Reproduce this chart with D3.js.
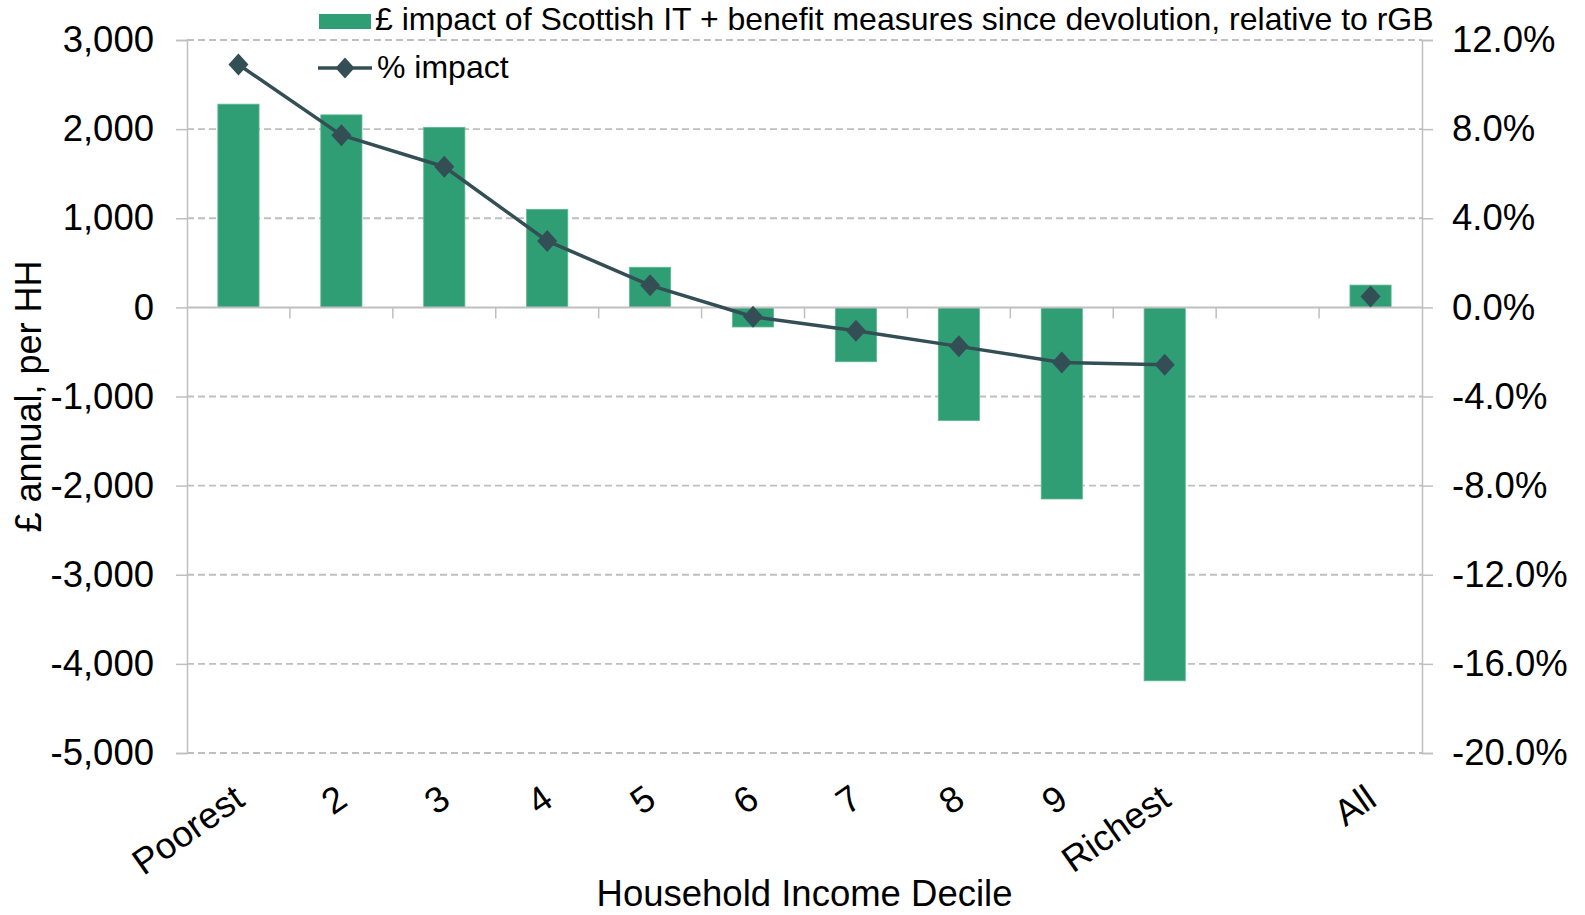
<!DOCTYPE html>
<html>
<head>
<meta charset="utf-8">
<script src="https://cdn.jsdelivr.net/npm/d3@7"></script>
<style>
  html, body { margin: 0; padding: 0; background: #ffffff; }
  svg { display: block; font-family: "Liberation Sans", Arial, sans-serif; }
</style>
</head>
<body>
<svg id="chart" width="1585" height="915"></svg>
<script>
// Household income deciles (blank slot separates "All")
const categories = ["Poorest", "2", "3", "4", "5", "6", "7", "8", "9", "Richest", "", "All"];
// £ annual impact per household
const poundImpact = [2280, 2160, 2020, 1100, 450, -220, -610, -1270, -2150, -4190, null, 250];
// % impact on household income
const pctImpact = [10.9, 7.73, 6.31, 2.98, 0.99, -0.42, -1.05, -1.75, -2.47, -2.57, null, 0.49];

const leftTicks = [3000, 2000, 1000, 0, -1000, -2000, -3000, -4000, -5000];
const leftTickLabels = ["3,000", "2,000", "1,000", "0", "-1,000", "-2,000", "-3,000", "-4,000", "-5,000"];
const rightTicks = [12, 8, 4, 0, -4, -8, -12, -16, -20];
const rightTickLabels = ["12.0%", "8.0%", "4.0%", "0.0%", "-4.0%", "-8.0%", "-12.0%", "-16.0%", "-20.0%"];

const seriesNames = ["£ impact of Scottish IT + benefit measures since devolution, relative to rGB", "% impact"];
const xTitle = "Household Income Decile";
const yTitle = "£ annual, per HH";

const barColor = "#2F9E74";
const lineColor = "#344E55";
const axisColor = "#BFBFBF";

const svg = d3.select("#chart");
const plot = { left: 187, right: 1422, top: 40, bottom: 753 };

const x = d3.scaleBand()
  .domain(categories.map((c, i) => i))
  .range([plot.left, plot.right])
  .paddingInner(0.6)
  .paddingOuter(0.3);
const step = x.step();

const yL = d3.scaleLinear().domain([-5000, 3000]).range([plot.bottom, plot.top]);
const yR = d3.scaleLinear().domain([-20, 12]).range([plot.bottom, plot.top]);

// dashed horizontal gridlines
svg.append("g")
  .selectAll("line")
  .data(leftTicks.filter(v => v !== 0))
  .join("line")
  .attr("x1", plot.left).attr("x2", plot.right)
  .attr("y1", d => yL(d)).attr("y2", d => yL(d))
  .attr("stroke", axisColor)
  .attr("stroke-width", 1.8)
  .attr("stroke-dasharray", "7,4");

// left axis
const gL = svg.append("g").attr("transform", `translate(${plot.left},0)`)
  .call(d3.axisLeft(yL).tickValues(leftTicks).tickSize(11).tickPadding(22)
    .tickFormat((d, i) => leftTickLabels[i]));
gL.select(".domain").attr("stroke", axisColor).attr("stroke-width", 1.5);
gL.selectAll(".tick line").attr("stroke", axisColor).attr("stroke-width", 1.5);
gL.selectAll(".tick text").attr("font-size", 36.5).attr("fill", "#000")
  .attr("font-family", "Liberation Sans, Arial, sans-serif");

// right axis
const gR = svg.append("g").attr("transform", `translate(${plot.right},0)`)
  .call(d3.axisRight(yR).tickValues(rightTicks).tickSize(11).tickPadding(19)
    .tickFormat((d, i) => rightTickLabels[i]));
gR.select(".domain").attr("stroke", axisColor).attr("stroke-width", 1.5);
gR.selectAll(".tick line").attr("stroke", axisColor).attr("stroke-width", 1.5);
gR.selectAll(".tick text").attr("font-size", 36.5).attr("fill", "#000")
  .attr("font-family", "Liberation Sans, Arial, sans-serif");

// bars
svg.append("g")
  .selectAll("rect")
  .data(poundImpact.map((v, i) => ({ v, i })).filter(d => d.v !== null))
  .join("rect")
  .attr("x", d => x(d.i))
  .attr("width", x.bandwidth())
  .attr("y", d => Math.min(yL(d.v), yL(0)))
  .attr("height", d => Math.abs(yL(d.v) - yL(0)))
  .attr("fill", barColor)
  .attr("stroke", "#5DB892")
  .attr("stroke-width", 0.8);

// category axis along zero
const zeroY = yL(0);
svg.append("line")
  .attr("x1", plot.left).attr("x2", plot.right)
  .attr("y1", zeroY).attr("y2", zeroY)
  .attr("stroke", axisColor).attr("stroke-width", 2);
svg.append("g")
  .selectAll("line")
  .data(d3.range(1, categories.length))
  .join("line")
  .attr("x1", i => plot.left + i * step).attr("x2", i => plot.left + i * step)
  .attr("y1", zeroY).attr("y2", zeroY + 11)
  .attr("stroke", axisColor).attr("stroke-width", 1.5);

// category labels
svg.append("g")
  .selectAll("text")
  .data(categories.map((c, i) => ({ c, i })).filter(d => d.c !== ""))
  .join("text")
  .attr("transform", d => `translate(${x(d.i) + x.bandwidth() / 2 + 8},${plot.bottom + 51}) rotate(-35)`)
  .attr("text-anchor", "end")
  .attr("font-size", 36.5)
  .attr("fill", "#000")
  .text(d => d.c);

// % impact line
const pts = pctImpact.map((v, i) => ({ v, i }));
svg.append("path")
  .datum(pts)
  .attr("d", d3.line()
    .defined(d => d.v !== null && d.i < 10)
    .x(d => x(d.i) + x.bandwidth() / 2)
    .y(d => yR(d.v)))
  .attr("fill", "none")
  .attr("stroke", lineColor)
  .attr("stroke-width", 3.5)
  .attr("stroke-linejoin", "round");

const diamond = (cx, cy, w, h) => `M${cx},${cy - h}L${cx + w},${cy}L${cx},${cy + h}L${cx - w},${cy}Z`;
svg.append("g")
  .selectAll("path")
  .data(pts.filter(d => d.v !== null))
  .join("path")
  .attr("d", d => diamond(x(d.i) + x.bandwidth() / 2, yR(d.v), 10, 11))
  .attr("fill", lineColor);

// axis titles
svg.append("text")
  .attr("x", (plot.left + plot.right) / 2)
  .attr("y", 906)
  .attr("text-anchor", "middle")
  .attr("font-size", 36.5)
  .attr("fill", "#000")
  .text(xTitle);

svg.append("text")
  .attr("transform", `translate(41,${(plot.top + plot.bottom) / 2}) rotate(-90)`)
  .attr("text-anchor", "middle")
  .attr("font-size", 36)
  .attr("fill", "#000")
  .text(yTitle);

// legend
const lg = svg.append("g");
lg.append("rect")
  .attr("x", 319).attr("y", 14).attr("width", 52).attr("height", 15)
  .attr("fill", barColor);
lg.append("text")
  .attr("x", 375).attr("y", 30)
  .attr("font-size", 32).attr("fill", "#000")
  .text(seriesNames[0]);
lg.append("line")
  .attr("x1", 318).attr("x2", 372).attr("y1", 68).attr("y2", 68)
  .attr("stroke", lineColor).attr("stroke-width", 3.5);
lg.append("path")
  .attr("d", diamond(345, 68, 9.5, 10.5))
  .attr("fill", lineColor);
lg.append("text")
  .attr("x", 377).attr("y", 78)
  .attr("font-size", 32).attr("fill", "#000")
  .text(seriesNames[1]);
</script>
</body>
</html>
